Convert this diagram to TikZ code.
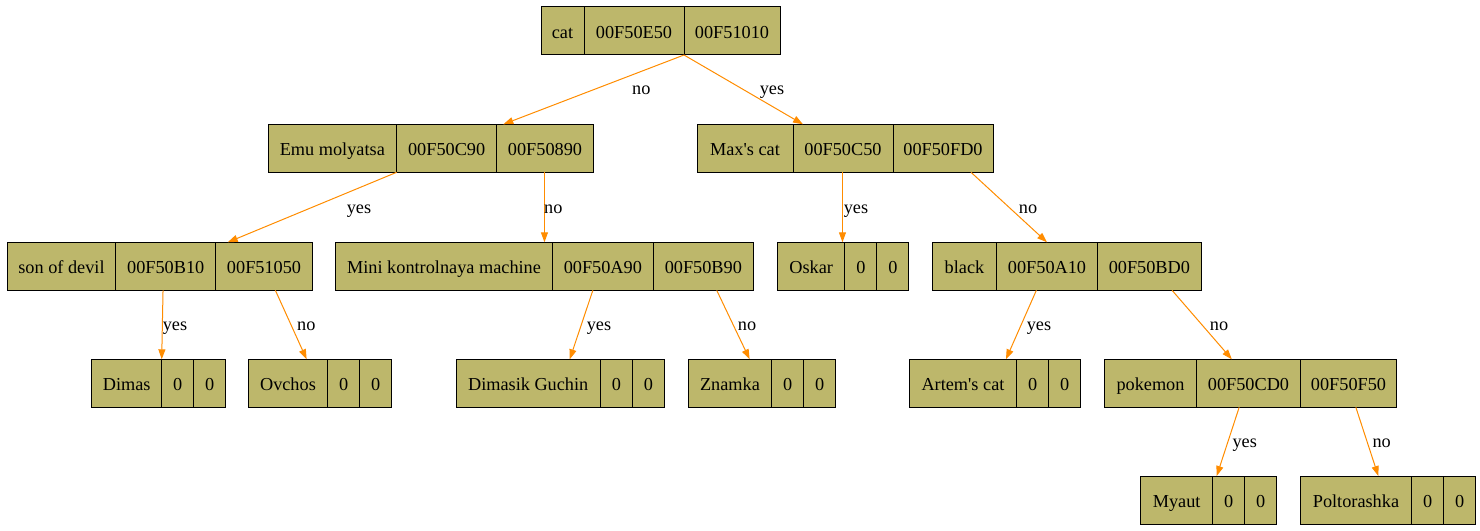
\documentclass[tikz,border=0pt]{standalone}
\usepackage{fontspec}
\setmainfont{Liberation Serif}
\usetikzlibrary{arrows.meta, positioning}
\definecolor{khaki}{RGB}{189,183,107}
\definecolor{darkorange}{RGB}{255,140,0}

\begin{document}
\begin{tikzpicture}[x=0.75pt, y=-0.75pt]
\tikzset{
>={Triangle[length=7.5pt, width=5.25pt]},
  recfield/.style={
    rectangle,
    draw=black, line width=0.75pt,
    fill=khaki,
    minimum height=36pt,
    inner sep=0pt, outer sep=0pt,
    text height=13pt, text depth=2.4pt,
    font=\fontsize{13.7}{16}\selectfont},
  pointer/.style={draw=darkorange, line width=0.75pt, ->},
  answer/.style={anchor=base, inner sep=0pt, font=\fontsize{13.7}{16}\selectfont},
}
\useasboundingbox (0,0) rectangle (1480,531);

% root
\node[recfield, minimum width=32.25pt, anchor=north west] (cat) at (541,7) {cat};
\node[recfield, minimum width=75pt, right=0pt of cat] (catL) {00F50E50};
\node[recfield, minimum width=72pt, right=0pt of catL] (catR) {00F51010};

% second level
\node[recfield, minimum width=96.5pt, anchor=north west] (emu) at (268,124.3) {Emu molyatsa};
\node[recfield, minimum width=75pt, right=0pt of emu] (emuL) {00F50C90};
\node[recfield, minimum width=72.5pt, right=0pt of emuL] (emuR) {00F50890};

\node[recfield, minimum width=72pt, anchor=north west] (max) at (697,124.3) {Max\textquotesingle s cat};
\node[recfield, minimum width=75pt, right=0pt of max] (maxL) {00F50C50};
\node[recfield, minimum width=75pt, right=0pt of maxL] (maxR) {00F50FD0};

% third level
\node[recfield, minimum width=81.3pt, anchor=north west] (son) at (7.3,242.3) {son of devil};
\node[recfield, minimum width=75pt, right=0pt of son] (sonL) {00F50B10};
\node[recfield, minimum width=72.5pt, right=0pt of sonL] (sonR) {00F51050};

\node[recfield, minimum width=162.5pt, anchor=north west] (mini) at (335.7,242.3) {Mini kontrolnaya machine};
\node[recfield, minimum width=75.75pt, right=0pt of mini] (miniL) {00F50A90};
\node[recfield, minimum width=75pt, right=0pt of miniL] (miniR) {00F50B90};

\node[recfield, minimum width=50.6pt, anchor=north west] (oskar) at (777.5,242.3) {Oskar};
\node[recfield, minimum width=24pt, right=0pt of oskar] (oskarL) {0};
\node[recfield, minimum width=24pt, right=0pt of oskarL] (oskarR) {0};

\node[recfield, minimum width=48.3pt, anchor=north west] (black) at (932.3,242.3) {black};
\node[recfield, minimum width=75.5pt, right=0pt of black] (blackL) {00F50A10};
\node[recfield, minimum width=78pt, right=0pt of blackL] (blackR) {00F50BD0};

% fourth level
\node[recfield, minimum width=52.5pt, anchor=north west] (dimas) at (91.7,359.3) {Dimas};
\node[recfield, minimum width=24pt, right=0pt of dimas] (dimasL) {0};
\node[recfield, minimum width=24pt, right=0pt of dimasL] (dimasR) {0};

\node[recfield, minimum width=59.5pt, anchor=north west] (ovchos) at (248.3,359.3) {Ovchos};
\node[recfield, minimum width=24pt, right=0pt of ovchos] (ovchosL) {0};
\node[recfield, minimum width=24pt, right=0pt of ovchosL] (ovchosR) {0};

\node[recfield, minimum width=108.3pt, anchor=north west] (dimasik) at (456,359.3) {Dimasik Guchin};
\node[recfield, minimum width=24pt, right=0pt of dimasik] (dimasikL) {0};
\node[recfield, minimum width=24pt, right=0pt of dimasikL] (dimasikR) {0};

\node[recfield, minimum width=62.5pt, anchor=north west] (znamka) at (688.3,359.3) {Znamka};
\node[recfield, minimum width=24pt, right=0pt of znamka] (znamkaL) {0};
\node[recfield, minimum width=24pt, right=0pt of znamkaL] (znamkaR) {0};

\node[recfield, minimum width=80.5pt, anchor=north west] (artem) at (909.3,359.3) {Artem\textquotesingle s cat};
\node[recfield, minimum width=24pt, right=0pt of artem] (artemL) {0};
\node[recfield, minimum width=24pt, right=0pt of artemL] (artemR) {0};

\node[recfield, minimum width=69.3pt, anchor=north west] (pokemon) at (1104.3,359.3) {pokemon};
\node[recfield, minimum width=77.7pt, right=0pt of pokemon] (pokemonL) {00F50CD0};
\node[recfield, minimum width=72.3pt, right=0pt of pokemonL] (pokemonR) {00F50F50};

% fifth level
\node[recfield, minimum width=54pt, anchor=north west] (myaut) at (1140.7,476) {Myaut};
\node[recfield, minimum width=24pt, right=0pt of myaut] (myautL) {0};
\node[recfield, minimum width=24pt, right=0pt of myautL] (myautR) {0};

\node[recfield, minimum width=83.5pt, anchor=north west] (polt) at (1300.3,476) {Poltorashka};
\node[recfield, minimum width=24pt, right=0pt of polt] (poltL) {0};
\node[recfield, minimum width=24pt, right=0pt of poltL] (poltR) {0};

% pointers
\draw[pointer] (catL.south east) -- ([xshift=5pt]emuR.north west);
\draw[pointer] (catL.south east) -- ([xshift=7.5pt]maxL.north west);
\draw[pointer] (emu.south east) -- ([xshift=9pt]sonR.north west);
\draw[pointer] ([xshift=-0.4pt]emuR.south) -- ([xshift=-0.4pt]emuR.south |- mini.north);
\draw[pointer] ([xshift=-0.4pt]maxL.south) -- ([xshift=-0.4pt]maxL.south |- oskar.north);
\draw[pointer] ([xshift=21pt]maxR.south) -- (blackL.north);
\draw[pointer] ([xshift=-2pt]sonL.south) -- (dimas.north east);
\draw[pointer] ([xshift=8.5pt]sonR.south) -- ([xshift=-15.75pt]ovchos.north east);
\draw[pointer] ([xshift=-7.5pt]miniL.south) -- ([xshift=-23pt]dimasik.north east);
\draw[pointer] ([xshift=10pt]miniR.south) -- ([xshift=-16.5pt]znamka.north east);
\draw[pointer] ([xshift=-8pt]blackL.south) -- ([xshift=-8pt]artem.north east);
\draw[pointer] ([xshift=17pt]blackR.south) -- ([xshift=-12.5pt]pokemonL.north);
\draw[pointer] ([xshift=-7pt]pokemonL.south) -- ([xshift=3pt]myaut.north east);
\draw[pointer] ([xshift=5.5pt]pokemonR.south) -- ([xshift=-25pt]polt.north east);

% answers
\node[answer] (catNo) at (641.3,95) {no};
\node[answer] (catYes) at (772,95) {yes};
\node[answer] (emuYes) at (359,213) {yes};
\node[answer] (emuNo) at (553.3,213) {no};
\node[answer] (maxYes) at (856,213) {yes};
\node[answer] (maxNo) at (1028,213) {no};
\node[answer] (sonYes) at (175,330) {yes};
\node[answer] (sonNo) at (306.3,330) {no};
\node[answer] (miniYes) at (599,330) {yes};
\node[answer] (miniNo) at (747,330) {no};
\node[answer] (blackYes) at (1039,330) {yes};
\node[answer] (blackNo) at (1219,330) {no};
\node[answer] (pokemonYes) at (1244.7,447) {yes};
\node[answer] (pokemonNo) at (1381.7,447) {no};

\end{tikzpicture}
\end{document}
